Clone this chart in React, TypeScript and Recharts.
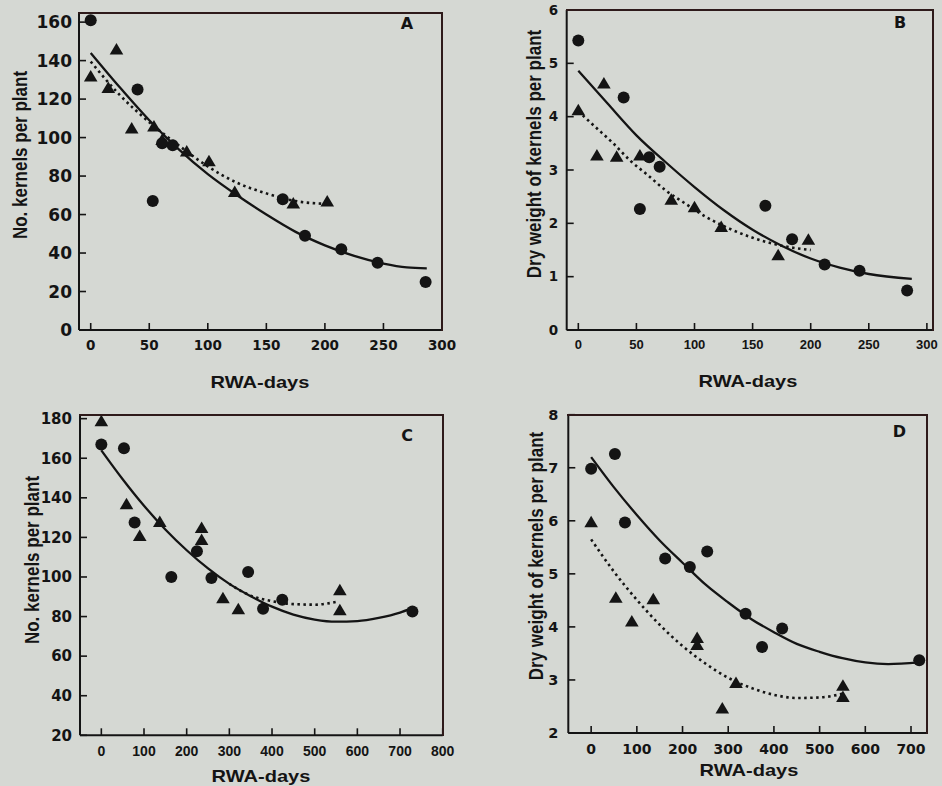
import React from 'react';
import { ComposedChart, Scatter, Line, XAxis, YAxis } from 'recharts';

// Panel A: kernels per plant vs RWA-days
const aCircles = [
  { x: 0, y: 161 }, { x: 40, y: 125 }, { x: 53, y: 67 }, { x: 61, y: 97 }, { x: 70, y: 96 },
  { x: 164, y: 68 }, { x: 183, y: 49 }, { x: 214, y: 42 }, { x: 245, y: 35 }, { x: 286, y: 25 },
];
const aTriangles = [
  { x: 0, y: 132 }, { x: 15, y: 126 }, { x: 22, y: 146 }, { x: 35, y: 105 }, { x: 54, y: 106 },
  { x: 61, y: 99 }, { x: 82, y: 93 }, { x: 101, y: 88 }, { x: 123, y: 72 }, { x: 173, y: 66 }, { x: 202, y: 67 },
];
const aSolid = [
  { x: 0, y: 144 }, { x: 25, y: 126 }, { x: 50, y: 109 }, { x: 75, y: 94 }, { x: 100, y: 81 },
  { x: 125, y: 70 }, { x: 150, y: 60 }, { x: 175, y: 51 }, { x: 200, y: 44 }, { x: 225, y: 38.5 },
  { x: 250, y: 34.5 }, { x: 270, y: 32.5 }, { x: 287, y: 32 },
];
const aDotted = [
  { x: 0, y: 139.5 }, { x: 25, y: 122 }, { x: 50, y: 108 }, { x: 75, y: 96 }, { x: 100, y: 85 },
  { x: 125, y: 76.5 }, { x: 150, y: 71 }, { x: 175, y: 67 }, { x: 202, y: 65.5 },
];

// Panel B: dry weight of kernels vs RWA-days
const bCircles = [
  { x: 0, y: 5.43 }, { x: 39, y: 4.36 }, { x: 53, y: 2.27 }, { x: 61, y: 3.24 }, { x: 70, y: 3.06 },
  { x: 161, y: 2.33 }, { x: 184, y: 1.7 }, { x: 212, y: 1.23 }, { x: 242, y: 1.11 }, { x: 283, y: 0.74 },
];
const bTriangles = [
  { x: 0, y: 4.13 }, { x: 16, y: 3.28 }, { x: 22, y: 4.63 }, { x: 33, y: 3.26 }, { x: 53, y: 3.28 },
  { x: 80, y: 2.45 }, { x: 100, y: 2.31 }, { x: 123, y: 1.94 }, { x: 172, y: 1.41 }, { x: 198, y: 1.7 },
];
const bSolid = [
  { x: 0, y: 4.86 }, { x: 25, y: 4.25 }, { x: 50, y: 3.65 }, { x: 75, y: 3.15 }, { x: 100, y: 2.68 },
  { x: 125, y: 2.25 }, { x: 150, y: 1.88 }, { x: 175, y: 1.58 }, { x: 200, y: 1.34 }, { x: 225, y: 1.17 },
  { x: 250, y: 1.05 }, { x: 287, y: 0.96 },
];
const bDotted = [
  { x: 0, y: 4.1 }, { x: 15, y: 3.8 }, { x: 30, y: 3.5 }, { x: 45, y: 3.17 }, { x: 60, y: 2.9 },
  { x: 75, y: 2.62 }, { x: 90, y: 2.4 }, { x: 110, y: 2.12 }, { x: 130, y: 1.9 }, { x: 150, y: 1.73 },
  { x: 175, y: 1.58 }, { x: 200, y: 1.5 },
];

// Panel C: kernels per plant vs RWA-days
const cCircles = [
  { x: 0, y: 167 }, { x: 53, y: 165 }, { x: 78, y: 127.5 }, { x: 164, y: 100 }, { x: 224, y: 113 },
  { x: 258, y: 99.5 }, { x: 344, y: 102.5 }, { x: 379, y: 84 }, { x: 424, y: 88.5 }, { x: 729, y: 82.5 },
];
const cTriangles = [
  { x: 0, y: 179 }, { x: 59, y: 137 }, { x: 90, y: 121 }, { x: 137, y: 128 }, { x: 235, y: 125 },
  { x: 235, y: 119 }, { x: 285, y: 89.5 }, { x: 321, y: 84 }, { x: 559, y: 93.5 }, { x: 559, y: 83.5 },
];
const cSolid = [
  { x: 0, y: 164 }, { x: 50, y: 149.4 }, { x: 100, y: 136 }, { x: 150, y: 124 }, { x: 200, y: 113.5 },
  { x: 250, y: 104.3 }, { x: 300, y: 96.5 }, { x: 350, y: 90.3 }, { x: 400, y: 85 }, { x: 450, y: 81 },
  { x: 500, y: 78.5 }, { x: 550, y: 77.4 }, { x: 600, y: 77.7 }, { x: 650, y: 79.3 }, { x: 700, y: 82 },
  { x: 725, y: 84 },
];
const cDotted = [
  { x: 300, y: 96.5 }, { x: 350, y: 90.6 }, { x: 400, y: 87.8 }, { x: 450, y: 86.3 },
  { x: 500, y: 86 }, { x: 556, y: 87.7 },
];

// Panel D: dry weight of kernels vs RWA-days
const dCircles = [
  { x: 0, y: 6.98 }, { x: 52, y: 7.26 }, { x: 74, y: 5.97 }, { x: 162, y: 5.29 }, { x: 216, y: 5.13 },
  { x: 254, y: 5.42 }, { x: 338, y: 4.25 }, { x: 374, y: 3.62 }, { x: 418, y: 3.97 }, { x: 718, y: 3.37 },
];
const dTriangles = [
  { x: 0, y: 5.98 }, { x: 54, y: 4.56 }, { x: 89, y: 4.11 }, { x: 136, y: 4.53 }, { x: 232, y: 3.8 },
  { x: 232, y: 3.67 }, { x: 287, y: 2.47 }, { x: 317, y: 2.95 }, { x: 551, y: 2.9 }, { x: 551, y: 2.69 },
];
const dSolid = [
  { x: 0, y: 7.2 }, { x: 50, y: 6.63 }, { x: 100, y: 6.11 }, { x: 150, y: 5.63 }, { x: 200, y: 5.21 },
  { x: 250, y: 4.8 }, { x: 300, y: 4.46 }, { x: 350, y: 4.15 }, { x: 400, y: 3.9 }, { x: 450, y: 3.68 },
  { x: 500, y: 3.53 }, { x: 550, y: 3.41 }, { x: 600, y: 3.33 }, { x: 650, y: 3.3 }, { x: 718, y: 3.33 },
];
const dDotted = [
  { x: 0, y: 5.65 }, { x: 50, y: 5.04 }, { x: 100, y: 4.51 }, { x: 150, y: 4.04 }, { x: 200, y: 3.64 },
  { x: 250, y: 3.31 }, { x: 300, y: 3.04 }, { x: 350, y: 2.85 }, { x: 400, y: 2.72 }, { x: 450, y: 2.66 },
  { x: 500, y: 2.67 }, { x: 551, y: 2.74 },
];

const xTicksAB = [0, 50, 100, 150, 200, 250, 300];
const xTicksC = [0, 100, 200, 300, 400, 500, 600, 700, 800];
const xTicksD = [0, 100, 200, 300, 400, 500, 600, 700];
const yTicksA = [0, 20, 40, 60, 80, 100, 120, 140, 160];
const yTicksB = [0, 1, 2, 3, 4, 5, 6];
const yTicksC = [20, 40, 60, 80, 100, 120, 140, 160, 180];
const yTicksD = [2, 3, 4, 5, 6, 7, 8];

const INK = '#141414';
const FRAME = '#2e1a1a';
const BG = '#d5d8d3';
const X_AXIS_H = 30;
const Y_AXIS_W = 50;

const circleShape = (p: any) => <circle cx={p.cx} cy={p.cy} r={6} fill={INK} />;
const triangleShape = (p: any) => (
  <polygon
    points={`${p.cx},${p.cy - 6} ${p.cx - 6.8},${p.cy + 5.5} ${p.cx + 6.8},${p.cy + 5.5}`}
    fill={INK}
  />
);

function Panel(props: any) {
  const { quad, box, xDomain, yDomain, xTicks, yTicks, xFont, yFont, xMargin, yMargin,
    circles, triangles, solid, dotted } = props;
  const margin = {
    top: box.t - quad.y,
    right: quad.x + quad.w - box.r,
    bottom: quad.y + quad.h - box.b - X_AXIS_H,
    left: box.l - quad.x - Y_AXIS_W,
  };
  const axisStroke = { stroke: INK, strokeWidth: 2 };
  return (
    <div style={{ position: 'absolute', left: quad.x, top: quad.y, width: quad.w, height: quad.h }}>
      <ComposedChart width={quad.w} height={quad.h} margin={margin}>
        <XAxis
          type="number" dataKey="x" domain={xDomain} ticks={xTicks} allowDataOverflow interval={0}
          height={X_AXIS_H} tickSize={-7} tickMargin={xMargin}
          axisLine={axisStroke} tickLine={{ stroke: INK, strokeWidth: 1.6 }}
          tick={{ fill: INK, ...xFont, fontWeight: 700 }}
        />
        <YAxis
          type="number" dataKey="y" domain={yDomain} ticks={yTicks} allowDataOverflow interval={0}
          width={Y_AXIS_W} tickSize={-7} tickMargin={yMargin}
          axisLine={axisStroke} tickLine={{ stroke: INK, strokeWidth: 1.6 }}
          tick={{ fill: INK, ...yFont, fontWeight: 700 }}
        />
        <Line data={solid} dataKey="y" type="monotone" stroke={INK} strokeWidth={2.3}
          dot={false} activeDot={false} isAnimationActive={false} />
        <Line data={dotted} dataKey="y" type="monotone" stroke={INK} strokeWidth={2.6}
          strokeDasharray="2.5 3.5" dot={false} activeDot={false} isAnimationActive={false} />
        <Scatter data={circles} dataKey="y" shape={circleShape} isAnimationActive={false} />
        <Scatter data={triangles} dataKey="y" shape={triangleShape} isAnimationActive={false} />
      </ComposedChart>
      {/* top and right edges of the frame */}
      <div style={{
        position: 'absolute', left: box.l - quad.x - 1, top: box.t - quad.y - 1,
        width: box.r - box.l + 2, height: 2, background: FRAME,
      }} />
      <div style={{
        position: 'absolute', left: box.r - quad.x - 1, top: box.t - quad.y - 1,
        width: 2, height: box.b - box.t + 2, background: FRAME,
      }} />
    </div>
  );
}

const titleFont: React.CSSProperties = {
  position: 'absolute', fontFamily: '"Liberation Sans", Arial, sans-serif', fontWeight: 700,
  fontSize: 17, color: INK, whiteSpace: 'nowrap', lineHeight: 1,
};

function XTitle({ cx, cy }: { cx: number; cy: number }) {
  return (
    <div style={{ ...titleFont, left: cx, top: cy, transform: 'translate(-50%, -50%) scaleX(1.18)' }}>
      RWA-days
    </div>
  );
}

function YTitle({ cx, cy, text }: { cx: number; cy: number; text: string }) {
  return (
    <div style={{ ...titleFont, left: cx, top: cy, transform: 'translate(-50%, -50%) rotate(-90deg) scaleY(1.15)' }}>
      {text}
    </div>
  );
}

function Letter({ cx, cy, text }: { cx: number; cy: number; text: string }) {
  return (
    <div style={{ ...titleFont, fontFamily: '"DejaVu Sans", sans-serif', fontSize: 16, left: cx, top: cy, transform: 'translate(-50%, -50%)' }}>
      {text}
    </div>
  );
}

const DV = '"DejaVu Sans", sans-serif';
const LS = '"Liberation Sans", Arial, sans-serif';

export default function App() {
  return (
    <div style={{ position: 'absolute', left: 0, top: 0, width: 942, height: 786, background: BG, overflow: 'hidden' }}>
      <Panel
        quad={{ x: 0, y: 0, w: 471, h: 393 }} box={{ l: 79, t: 12.5, r: 442, b: 330 }}
        xDomain={[-10, 300]} yDomain={[0, 165]} xTicks={xTicksAB} yTicks={yTicksA}
        xFont={{ fontFamily: DV, fontSize: 13.5 }} yFont={{ fontFamily: DV, fontSize: 17 }}
        xMargin={17} yMargin={14}
        circles={aCircles} triangles={aTriangles} solid={aSolid} dotted={aDotted}
      />
      <Panel
        quad={{ x: 471, y: 0, w: 471, h: 393 }} box={{ l: 566.7, t: 10, r: 932.7, b: 330 }}
        xDomain={[-10, 305]} yDomain={[0, 6]} xTicks={xTicksAB} yTicks={yTicksB}
        xFont={{ fontFamily: LS, fontSize: 13 }} yFont={{ fontFamily: DV, fontSize: 13.5 }}
        xMargin={17} yMargin={15.5}
        circles={bCircles} triangles={bTriangles} solid={bSolid} dotted={bDotted}
      />
      <Panel
        quad={{ x: 0, y: 393, w: 471, h: 393 }} box={{ l: 80, t: 414.7, r: 442.7, b: 735.3 }}
        xDomain={[-50, 800]} yDomain={[20, 182]} xTicks={xTicksC} yTicks={yTicksC}
        xFont={{ fontFamily: LS, fontSize: 14 }} yFont={{ fontFamily: DV, fontSize: 15 }}
        xMargin={17.5} yMargin={15}
        circles={cCircles} triangles={cTriangles} solid={cSolid} dotted={cDotted}
      />
      <Panel
        quad={{ x: 471, y: 393, w: 471, h: 393 }} box={{ l: 568.3, t: 414.7, r: 927, b: 733 }}
        xDomain={[-50, 735]} yDomain={[2, 8]} xTicks={xTicksD} yTicks={yTicksD}
        xFont={{ fontFamily: DV, fontSize: 14 }} yFont={{ fontFamily: DV, fontSize: 14.5 }}
        xMargin={18.5} yMargin={17}
        circles={dCircles} triangles={dTriangles} solid={dSolid} dotted={dDotted}
      />

      <XTitle cx={260} cy={381.7} />
      <XTitle cx={747.7} cy={380.7} />
      <XTitle cx={260.7} cy={776} />
      <XTitle cx={749} cy={769.7} />

      <YTitle cx={21} cy={155} text="No. kernels per plant" />
      <YTitle cx={535} cy={154} text="Dry weight of kernels per plant" />
      <YTitle cx={32.5} cy={559.7} text="No. kernels per plant" />
      <YTitle cx={536.7} cy={556.3} text="Dry weight of kernels per plant" />

      <Letter cx={407} cy={24} text="A" />
      <Letter cx={900} cy={22.7} text="B" />
      <Letter cx={407} cy={435.6} text="C" />
      <Letter cx={899.3} cy={432.2} text="D" />
    </div>
  );
}
